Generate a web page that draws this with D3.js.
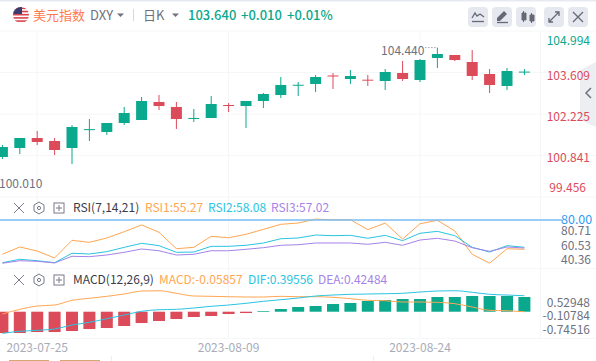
<!DOCTYPE html>
<html>
<head>
<meta charset="utf-8">
<script src="https://cdn.jsdelivr.net/npm/d3@7"></script>
<style>
    html, body { margin: 0; padding: 0; background: #fff; overflow: hidden; }
    text { font-family: "Noto Sans CJK SC", "Noto Sans", sans-serif; }
</style>
</head>
<body>
<script>
// candles
const dates = ["2023-07-21","2023-07-24","2023-07-25","2023-07-26","2023-07-27","2023-07-28","2023-07-31","2023-08-01","2023-08-02","2023-08-03","2023-08-04","2023-08-07","2023-08-08","2023-08-09","2023-08-10","2023-08-11","2023-08-14","2023-08-15","2023-08-16","2023-08-17","2023-08-18","2023-08-21","2023-08-22","2023-08-23","2023-08-24","2023-08-25","2023-08-28","2023-08-29","2023-08-30","2023-08-31","2023-09-01"];
const open  = [100.790,101.091,101.424,101.324,101.091,101.700,101.625,101.925,102.025,102.625,102.459,102.058,102.092,102.525,102.492,102.659,102.859,103.180,103.226,103.510,103.393,103.370,103.326,103.593,103.359,104.093,104.193,103.960,103.559,103.159,103.630];
const close = [101.124,101.424,101.291,101.024,101.791,101.720,101.925,102.258,102.659,102.492,102.058,102.092,102.559,102.500,102.659,102.892,103.192,103.200,103.459,103.480,103.493,103.350,103.626,103.393,104.026,104.227,104.026,103.493,103.192,103.659,103.640];
const high  = [101.191,101.424,101.658,101.424,101.858,102.058,101.925,102.459,102.792,102.859,102.625,102.392,102.826,102.592,102.659,102.926,103.459,103.292,103.526,103.593,103.693,103.526,103.726,103.993,104.060,104.440,104.193,104.360,103.726,103.760,103.726];
const low   = [100.724,100.890,101.191,100.857,100.557,101.324,101.525,101.858,102.025,102.358,101.725,101.958,102.092,102.292,101.758,102.425,102.759,102.826,102.959,103.059,103.226,103.159,103.026,103.326,103.292,103.760,103.993,103.359,102.926,103.026,103.526];
const priceTicks = ["104.994","103.609","102.225","100.841","99.456"];

const rsi1 = [48.4,58.5,52.9,43.3,67.7,64.9,70.9,79.6,88.9,78.8,56.1,58.0,73.2,71.3,76.0,82.9,89.8,91.6,97.1,95.8,96.2,82.4,91.6,69.5,90.6,95.3,80.6,48.4,36.0,56.1,55.27];
const rsi2 = [36.8,41.5,39.5,36.8,49.8,48.8,52.0,58.0,63.6,60.3,51.1,51.5,59.4,59.4,60.8,64.0,69.9,70.9,75.0,74.1,74.6,70.5,74.6,67.2,77.4,80.1,74.1,58.0,51.5,60.3,58.08];
const rsi3 = [36.0,39.5,38.7,36.4,45.6,45.1,47.4,51.1,55.7,53.3,47.4,48.4,53.3,53.3,55.3,57.5,60.8,61.6,64.0,64.0,64.0,62.2,64.9,60.8,68.1,70.5,66.7,57.5,52.5,58.5,57.02];
const rsiTicks = [80.71,60.53,40.36];
const rsiLimit = 95.9; // where the 80.00 line sits on this axis

const macdBars = [-0.902,-0.902,-0.855,-0.855,-0.807,-0.713,-0.666,-0.571,-0.430,-0.335,-0.241,-0.146,-0.099,-0.005,0.042,0.137,0.231,0.326,0.373,0.467,0.515,0.609,0.656,0.703,0.703,0.798,0.798,0.845,0.845,0.845,0.798];
const macdLine = [-0.005,0.217,0.373,0.420,0.642,0.737,0.831,0.940,1.081,1.095,0.973,0.845,0.831,0.812,0.798,0.798,0.831,0.812,0.812,0.784,0.718,0.642,0.623,0.562,0.562,0.548,0.482,0.326,0.170,0.151,0.104];
const difLine = [-0.916,-0.822,-0.774,-0.713,-0.524,-0.397,-0.227,-0.052,0.123,0.198,0.217,0.279,0.359,0.420,0.500,0.595,0.670,0.751,0.845,0.892,0.925,0.940,0.954,0.973,1.034,1.081,1.095,1.020,0.925,0.892,0.859];
const macdTicks = [0.52948,-0.10784,-0.74516];
const macdBase = 0.104;
const dateTicks = ["2023-07-25","2023-08-09","2023-08-24"];

const width = 596, height = 361;
const up = "#0aa88c", down = "#dc4b5a", orange = "#ffa652", cyan = "#2bc4e0", purple = "#a583e8";
const gridColor = "#f5f6f8", grey = "#6e7180";

const svg = d3.select("body").append("svg")
    .attr("width", width).attr("height", height)
    .style("display", "block");

const x = d3.scalePoint().domain(dates).range([2.4, 524.4]);
const yPrice = d3.scaleLinear().domain([99.456, 104.994]).range([197, 31]);
const yRsi = d3.scaleLinear().domain([40.36, 80.71]).range([260.1, 230.9]);
const yMacd = d3.scaleLinear().domain([-0.74516, 0.52948]).range([329.7, 302.7]);

const gridH = [31, 72.5, 114, 155.5, 197, 268.5, 338.5];
const gridV = dateTicks.map(d => x(d));

svg.append("rect").attr("width", width).attr("height", 1.5).attr("fill", "#e6e9f2");

const grid = svg.append("g").attr("stroke", gridColor).attr("fill", "none");
gridH.forEach(y => grid.append("line").attr("x1", 0).attr("x2", width).attr("y1", y).attr("y2", y));
gridV.forEach(v => grid.append("line").attr("x1", v).attr("x2", v).attr("y1", 31).attr("y2", 339));
grid.append("line").attr("x1", 540.5).attr("x2", 540.5).attr("y1", 31).attr("y2", 339);

drawHeader();
drawCandles();
drawRsi();
drawMacd();
drawDates();
drawFooter();

function drawHeader() {
    const flag = svg.append("g").attr("transform", "translate(21,15)");
    flag.append("clipPath").attr("id", "flag-clip").append("circle").attr("r", 8);
    const f = flag.append("g").attr("clip-path", "url(#flag-clip)");
    f.append("rect").attr("x", -8).attr("y", -8).attr("width", 16).attr("height", 16).attr("fill", "#fff");
    d3.range(5).forEach(i => f.append("rect")
        .attr("x", -8).attr("y", -7.5 + i * 3.2).attr("width", 16).attr("height", 1.6).attr("fill", "#d9434e"));
    f.append("rect").attr("x", -8).attr("y", -8).attr("width", 9).attr("height", 7).attr("fill", "#3c3b6e");

    const row = svg.append("g").attr("font-size", 13);
    row.append("text").attr("x", 33).attr("y", 19.5).attr("fill", "#ff7a50").text("美元指数");
    row.append("text").attr("x", 90).attr("y", 19.5).attr("fill", grey).text("DXY");
    row.append("text").attr("x", 143).attr("y", 19.5).attr("fill", grey).text("日K");
    row.append("text").attr("x", 188).attr("y", 19.5).attr("fill", up).attr("font-weight", 500).text("103.640");
    row.append("text").attr("x", 241).attr("y", 19.5).attr("fill", up).attr("font-weight", 500).text("+0.010");
    row.append("text").attr("x", 287).attr("y", 19.5).attr("fill", up).attr("font-weight", 500).text("+0.01%");

    [[117, 15], [172, 15]].forEach(([tx, ty]) => svg.append("path")
        .attr("d", `M${tx},${ty - 1.5}h7l-3.5,3.5z`).attr("fill", grey));
    svg.append("line").attr("x1", 133.5).attr("x2", 133.5).attr("y1", 9).attr("y2", 21).attr("stroke", "#d5d8e0");

    // toolbar buttons
    const buttons = [468, 492, 516, 544, 568];
    const bar = svg.append("g");
    buttons.forEach(b => bar.append("rect").attr("x", b).attr("y", 7).attr("width", 20).attr("height", 20)
        .attr("rx", 4).attr("fill", "#e6e8f0"));
    const ink = "#666975";
    bar.append("path").attr("d", "M472,18l3,-5l2,3l3,-2l4,3").attr("fill", "none").attr("stroke", ink).attr("stroke-width", 1.3);
    bar.append("path").attr("d", "M472,21.5h12").attr("stroke", ink).attr("stroke-width", 1.3);
    bar.append("path").attr("d", "M497,18l7,-7l3,3l-7,7h-3z").attr("fill", ink);
    bar.append("path").attr("d", "M497,22.5h11").attr("stroke", ink).attr("stroke-width", 1.3);
    bar.append("path").attr("d", "M522,13h4v7h-4zM523.5,11v11M530,15h4v6h-4zM531.5,13v10").attr("fill", ink).attr("stroke", ink);
    bar.append("path").attr("d", "M549,22l10,-10M555,12h4v4M549,18v4h4").attr("fill", "none").attr("stroke", ink).attr("stroke-width", 1.3);
    bar.append("path").attr("d", "M573,12l10,10M583,12l-10,10").attr("fill", "none").attr("stroke", ink).attr("stroke-width", 1.3);

    // collapse tab on the right edge
    svg.append("path").attr("d", "M596,62L580,70V120L596,127z").attr("fill", "#eceef2");
    svg.append("path").attr("d", "M591,88l-5,5l5,5").attr("fill", "none").attr("stroke", grey).attr("stroke-width", 1.5);
}

function drawCandles() {
    const g = svg.append("g");
    const isUp = i => close[i] >= open[i];
    g.selectAll("line.wick").data(dates).enter().append("line")
        .attr("class", "wick")
        .attr("x1", d => x(d)).attr("x2", d => x(d))
        .attr("y1", (d, i) => yPrice(high[i])).attr("y2", (d, i) => yPrice(low[i]))
        .attr("stroke", (d, i) => isUp(i) ? up : down);
    g.selectAll("rect").data(dates).enter().append("rect")
        .attr("x", d => x(d) - 5.5).attr("width", 11)
        .attr("y", (d, i) => yPrice(Math.max(open[i], close[i])))
        .attr("height", (d, i) => Math.max(1, Math.abs(yPrice(open[i]) - yPrice(close[i]))))
        .attr("fill", (d, i) => isUp(i) ? up : down);

    const axis = svg.append("g").attr("font-size", 12).attr("text-anchor", "end");
    const labelY = [10, 3, 2.5, 3, -9];
    priceTicks.forEach((t, i) => axis.append("text")
        .attr("x", i === 4 ? 586 : 590)
        .attr("y", yPrice(+t) + labelY[i] + 4)
        .attr("fill", i === 0 ? up : down)
        .text(t));

    const ann = svg.append("g").attr("fill", grey).attr("font-size", 12);
    const topIdx = high.indexOf(d3.max(high));
    ann.append("text").attr("x", x(dates[topIdx]) - 13).attr("y", yPrice(high[topIdx]) + 7)
        .attr("text-anchor", "end").attr("fill", grey).text("104.440");
    ann.append("line").attr("x1", x(dates[topIdx]) - 12).attr("x2", x(dates[topIdx]) - 1)
        .attr("y1", yPrice(high[topIdx])).attr("y2", yPrice(high[topIdx]))
        .attr("stroke", grey).attr("stroke-dasharray", "1,2");
    ann.append("text").attr("x", -1).attr("y", 188).text("100.010");
}

function legendIcons(y) {
    const ink = "#787b88";
    const g = svg.append("g").attr("fill", "none").attr("stroke", ink);
    g.append("path").attr("d", `M14,${y - 5}l10,10M24,${y - 5}l-10,10`);
    g.append("path").attr("d", `M39,${y - 6}l5,3v6l-5,3l-5,-3v-6z`);
    g.append("circle").attr("cx", 39).attr("cy", y).attr("r", 1.6);
    g.append("rect").attr("x", 54).attr("y", y - 5).attr("width", 10).attr("height", 10);
    g.append("path").attr("d", `M59,${y - 3}v6M56,${y}h6`);
}

function legendText(y, items) {
    const g = svg.append("g").attr("font-size", 12);
    items.forEach(([tx, txt, col]) => g.append("text").attr("x", tx).attr("y", y).attr("fill", col).text(txt));
}

function drawRsi() {
    legendIcons(208);
    legendText(212, [
        [73, "RSI(7,14,21)", "#3a3c48"],
        [145, "RSI1:55.27", orange],
        [208, "RSI2:58.08", cyan],
        [271, "RSI3:57.02", purple]
    ]);
    const line = vals => d3.line().x((d, i) => x(dates[i])).y(d => yRsi(d))(vals);
    [[rsi1, orange], [rsi2, cyan], [rsi3, purple]].forEach(([vals, col]) => svg.append("path")
        .attr("d", line(vals)).attr("fill", "none").attr("stroke", col));

    svg.append("line").attr("x1", 0).attr("x2", 562)
        .attr("y1", yRsi(rsiLimit)).attr("y2", yRsi(rsiLimit))
        .attr("stroke", "#79bdf2").attr("stroke-width", 1.5);
    svg.append("text").attr("x", 561).attr("y", yRsi(rsiLimit) + 4.5)
        .attr("font-size", 12.5).attr("fill", "#2f9bf0").text("80.00");

    const axis = svg.append("g").attr("font-size", 12).attr("fill", grey);
    rsiTicks.forEach(t => axis.append("text").attr("x", 561).attr("y", yRsi(t) + 4)
        .text(t.toFixed(2)));
}

function drawMacd() {
    legendIcons(280);
    legendText(284, [
        [73, "MACD(12,26,9)", "#3a3c48"],
        [159, "MACD:-0.05857", orange],
        [248, "DIF:0.39556", cyan],
        [318, "DEA:0.42484", purple]
    ]);
    svg.append("g").selectAll("rect").data(macdBars).enter().append("rect")
        .attr("x", (d, i) => x(dates[i]) - 6).attr("width", 12)
        .attr("y", d => Math.min(yMacd(d), yMacd(macdBase)))
        .attr("height", d => Math.abs(yMacd(d) - yMacd(macdBase)))
        .attr("fill", d => d >= macdBase ? up : down);

    const line = vals => d3.line().x((d, i) => x(dates[i])).y(d => yMacd(d)).curve(d3.curveMonotoneX)(vals);
    [[macdLine, orange], [difLine, cyan]].forEach(([vals, col]) => svg.append("path")
        .attr("d", line(vals)).attr("fill", "none").attr("stroke", col));

    const axis = svg.append("g").attr("font-size", 12).attr("fill", grey).attr("text-anchor", "end");
    macdTicks.forEach(t => axis.append("text").attr("x", 590).attr("y", yMacd(t) + 4)
        .text(t.toFixed(5)));
}

function drawDates() {
    const g = svg.append("g").attr("font-size", 12).attr("fill", "#a9acb8").attr("text-anchor", "middle");
    dateTicks.forEach(d => g.append("text").attr("x", x(d)).attr("y", 351.5).text(d));
}

// edge of the next block on the page, cut off by the window
function drawFooter() {
    [[9, 40], [60, 40]].forEach(([fx, fw]) => svg.append("rect")
        .attr("x", fx).attr("y", 360).attr("width", fw).attr("height", 1).attr("fill", "#d4a870"));
    [111.5, 373.5].forEach(fx => svg.append("line")
        .attr("x1", fx).attr("x2", fx).attr("y1", 356).attr("y2", 361).attr("stroke", "#eceef2"));
}
</script>
</body>
</html>
